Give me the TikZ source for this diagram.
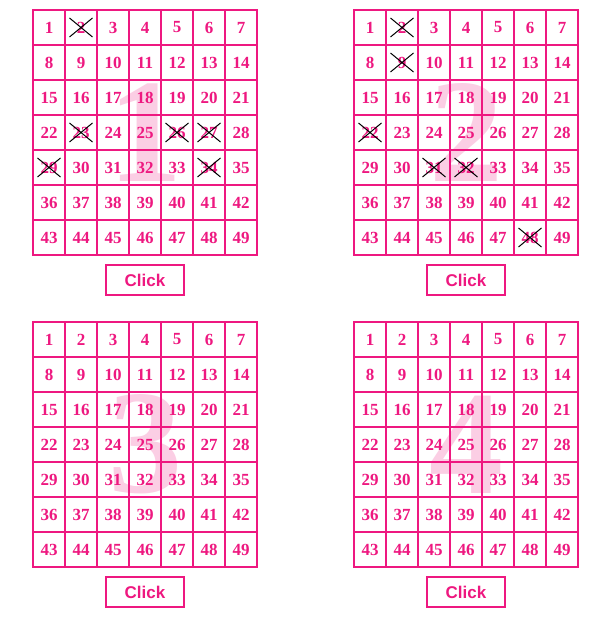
\documentclass[tikz,border=0pt]{standalone}
\usepackage{fontspec}
\setmainfont{Liberation Serif}
\newfontfamily\clickfont{Liberation Sans}
\usetikzlibrary{shapes.misc}
\definecolor{hotpink}{RGB}{238,24,128}
\definecolor{palepink}{RGB}{251,206,228}
\tikzset{cell/.style={draw=hotpink,line width=2pt,minimum width=32pt,minimum height=35pt,inner sep=0pt,text=hotpink,font=\fontsize{17}{17}\selectfont\bfseries}}
\tikzset{ghost/.style={inner sep=0pt,text=palepink,font=\fontsize{148}{148}\selectfont\bfseries}}
\tikzset{button/.style={draw=hotpink,line width=2pt,minimum width=78pt,minimum height=30pt,inner sep=0pt,text=hotpink,font=\clickfont\fontsize{17}{17}\selectfont\bfseries}}
\tikzset{crossed/.style={cross out,draw=black,line width=1pt,minimum width=22pt,minimum height=18pt,inner sep=0pt}}

\begin{document}
\begin{tikzpicture}[x=1pt,y=-1pt]
        \fill[white] (0,0) rectangle (611,628);
        \useasboundingbox (0,0) rectangle (611,628);
        \foreach \g/\gx/\gy in {1/33/10,2/354/10,3/33/322,4/354/322}{
            \begin{scope}[shift={(\gx,\gy)}]
                \node[ghost] (big\g) at (112,122.5) {\g};
                \foreach \r in {0,...,6}
                    \foreach \c in {0,...,6}{
                        \pgfmathtruncatemacro{\n}{7*\r+\c+1}
                        \node[cell] (g\g-\n) at (16+32*\c,17.5+35*\r) {\n};
                    }
                \node[button] (click\g) at (112,270) {Click};
            \end{scope}
        }
        \foreach \n in {2,23,26,27,29,34} \node[crossed] (x1-\n) at (g1-\n) {};
        \foreach \n in {2,9,22,31,32,48} \node[crossed] (x2-\n) at (g2-\n) {};
    \end{tikzpicture}
\end{document}
